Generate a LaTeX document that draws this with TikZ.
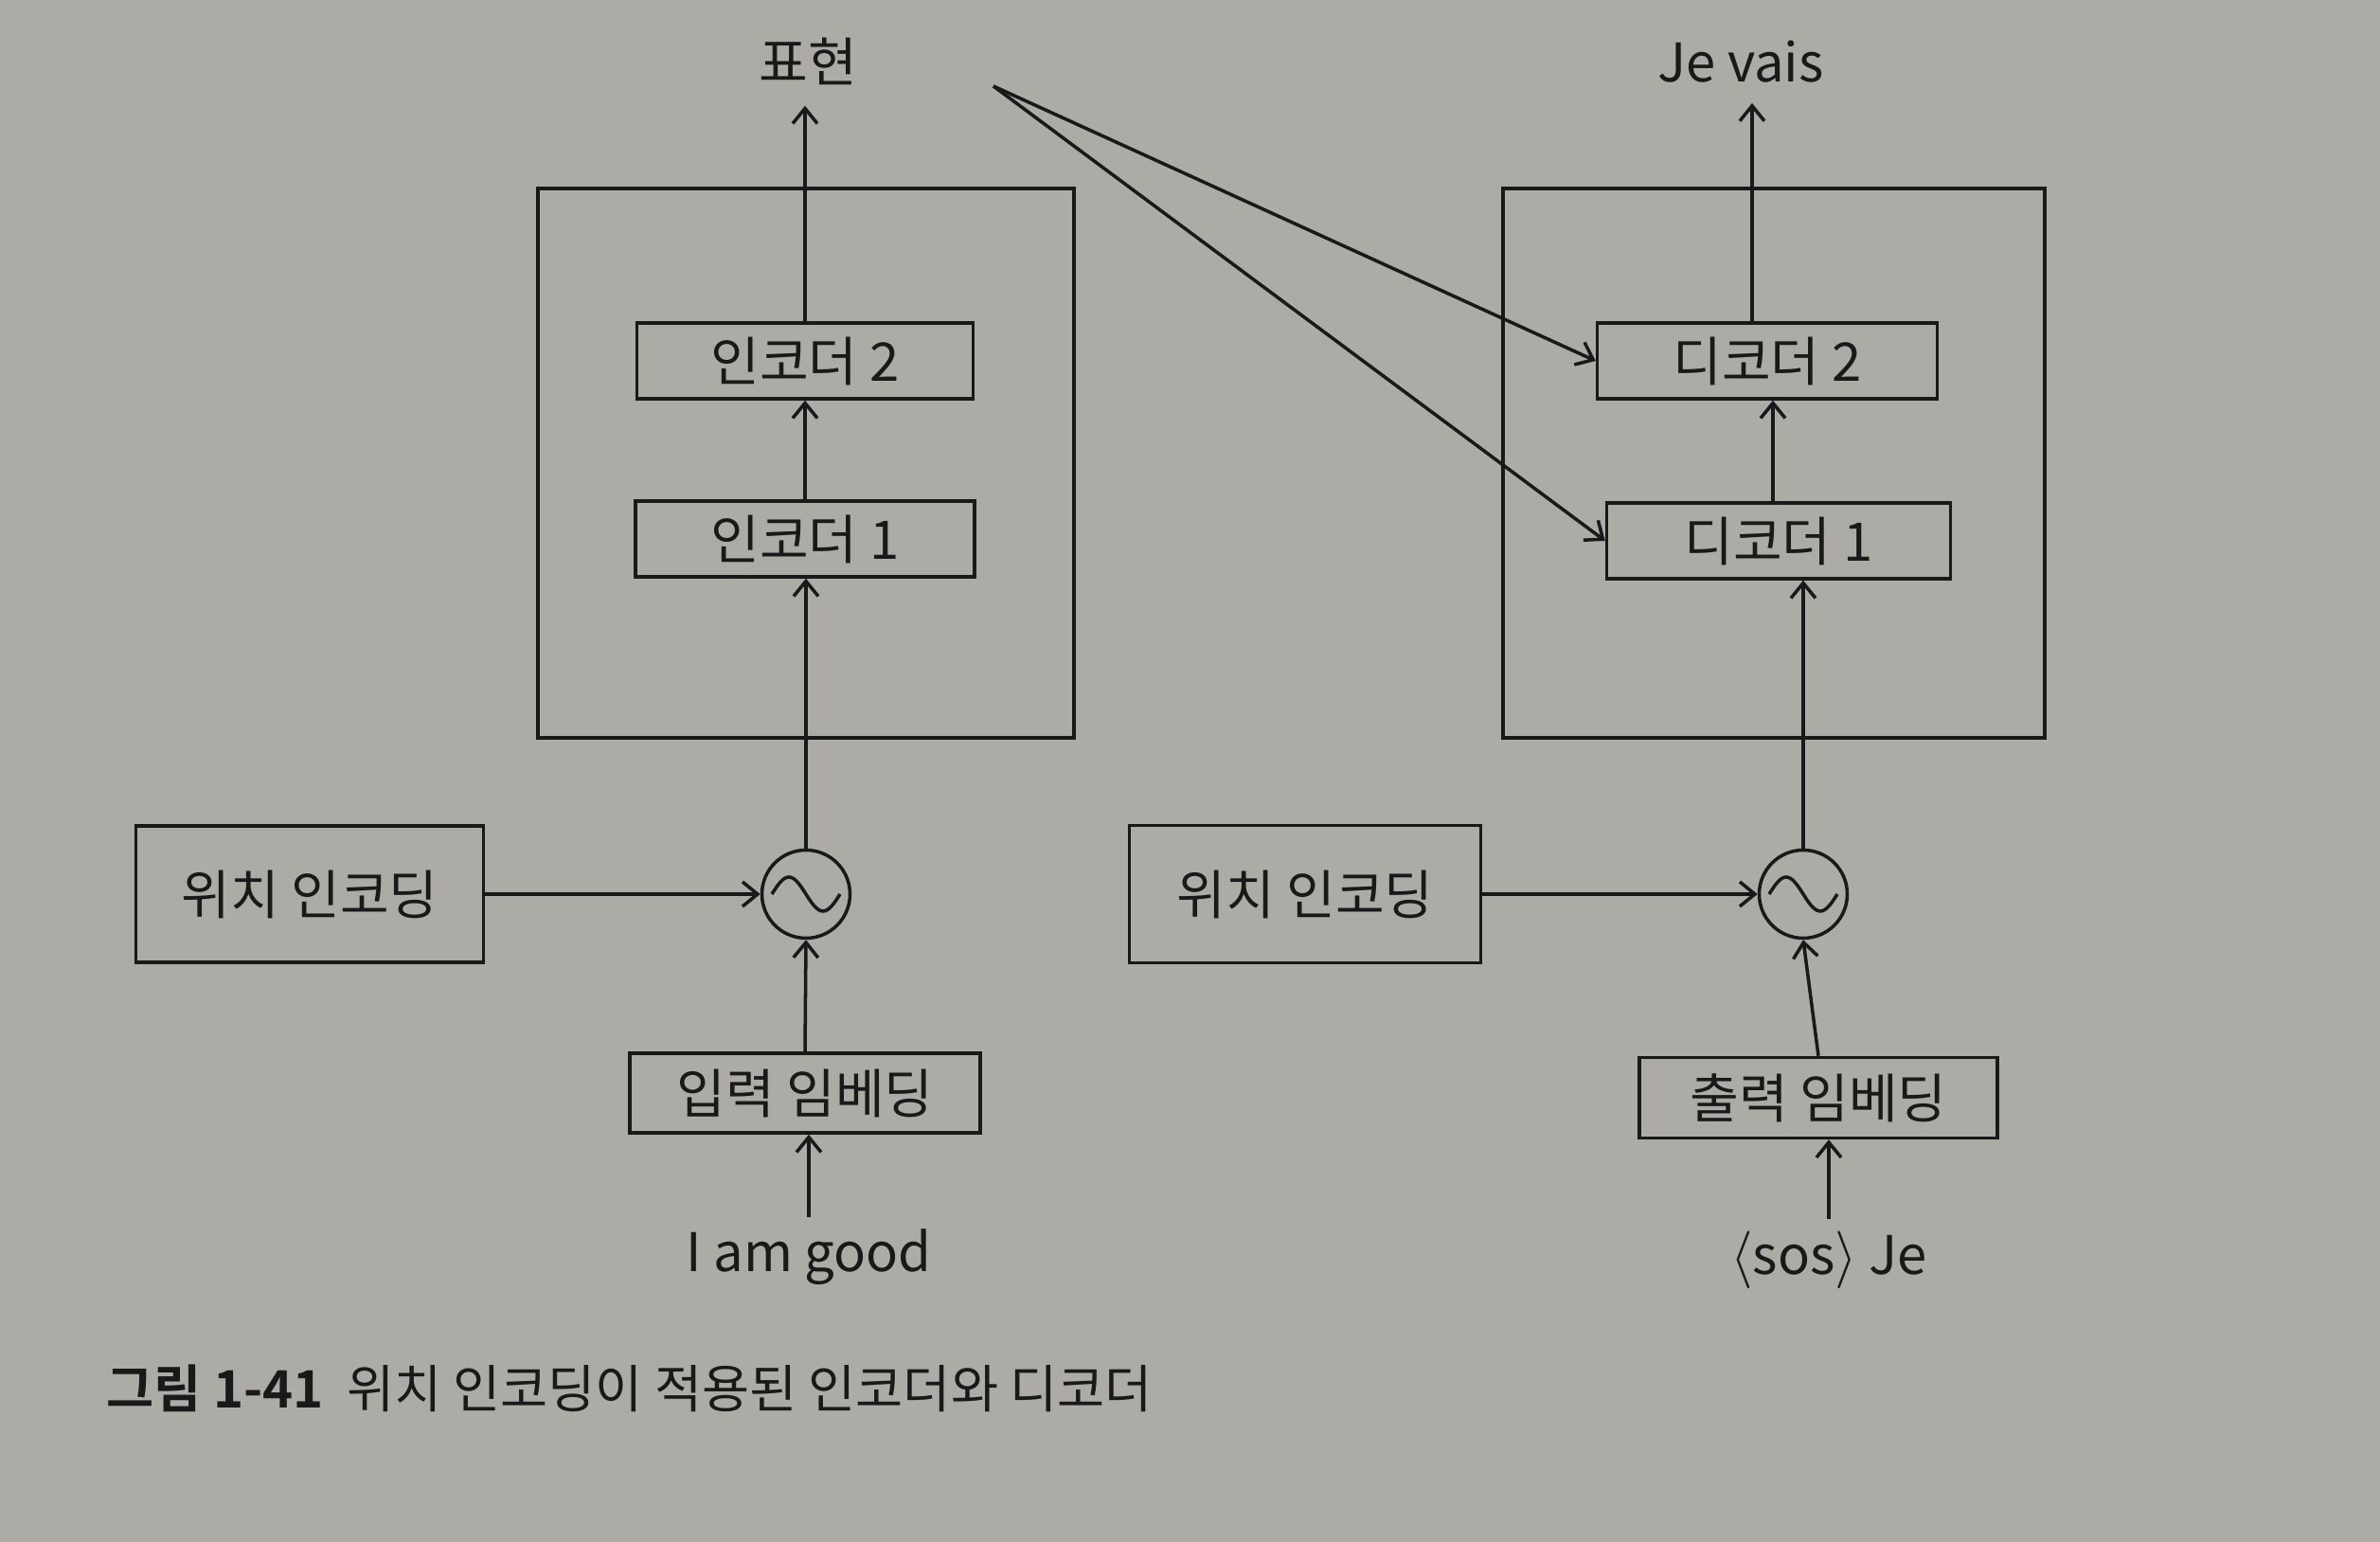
\documentclass[tikz,border=0pt]{standalone}
\usepackage{fontspec}
\setmainfont{Noto Sans CJK KR}[BoldFont={Noto Sans CJK KR Bold}]
\usepackage{tikz}
\usetikzlibrary{arrows.meta,calc}
\definecolor{paper}{RGB}{172,171,166}
\definecolor{ink}{RGB}{25,25,25}

\begin{document}
\begin{tikzpicture}[every node/.style={font=\fontsize{16}{19}\selectfont,text=ink},
    block/.style={draw=ink,line width=1pt,minimum height=0.8cm,inner sep=0pt},
    mixer/.style={draw=ink,line width=1pt,circle,minimum size=0.93cm,inner sep=0pt},
    arr/.style={draw=ink,line width=1pt,-{Straight Barb[length=1.6mm,width=2.6mm]}},
    frame/.style={draw=ink,line width=1pt}]
  \fill[paper] (0,0) rectangle (25.13,16.28);
  \useasboundingbox (0,0) rectangle (25.13,16.28);

  % encoder side
  \draw[frame] (5.68,8.49) rectangle (11.34,14.29);
  \node[block,minimum width=3.55cm] (enc2) at (8.50,12.47) {인코더 2};
  \node[block,minimum width=3.58cm] (enc1) at (8.50,10.59) {인코더 1};
  \node[mixer] (mixL) at (8.51,6.84) {};
  \node[block,minimum width=3.67cm,minimum height=1.44cm] (posL) at (3.27,6.84) {위치 인코딩};
  \node[block,minimum width=3.70cm,minimum height=0.84cm] (inemb) at (8.50,4.74) {입력 임베딩};
  \node (insent) at (8.54,3.01) {I am good};
  \node[inner sep=6pt] (rep) at (8.53,15.63) {표현};
  \coordinate (fork) at (10.49,15.37);

  % decoder side
  \draw[frame] (15.87,8.49) rectangle (21.59,14.29);
  \node[block,minimum width=3.59cm] (dec2) at (18.66,12.47) {디코더 2};
  \node[block,minimum width=3.63cm] (dec1) at (18.78,10.57) {디코더 1};
  \node[mixer] (mixR) at (19.04,6.84) {};
  \node[block,minimum width=3.71cm,minimum height=1.45cm] (posR) at (13.78,6.84) {위치 인코딩};
  \node[block,minimum width=3.78cm,minimum height=0.85cm] (outemb) at (19.20,4.69) {출력 임베딩};
  \node (outsent) at (19.31,2.98) {$\langle$sos$\rangle$ Je};
  \node[inner sep=6pt] (jevais) at (18.38,15.63) {Je vais};

  % sine marks
  \foreach \m in {mixL,mixR}
    \draw[ink,line width=1pt] ($(\m)+(-0.36,0)$) sin ++(0.18,0.18) cos ++(0.18,-0.18)
      sin ++(0.18,-0.18) cos ++(0.18,0.18);

  % connectors
  \draw[arr] (insent.north) -- (insent.north |- inemb.south);
  \draw[arr] (inemb.north) -- (mixL.south);
  \draw[arr] (posL.east) -- (mixL.west);
  \draw[arr] (mixL.north) -- (mixL.north |- enc1.south);
  \draw[arr] (enc1.north) -- (enc2.south);
  \draw[arr] (enc2.north) -- (enc2.north |- rep.south);
  \draw[arr] (fork) -- (dec2.west);
  \draw[arr] (fork) -- (dec1.west);
  \draw[arr] (outsent.north) -- (outsent.north |- outemb.south);
  \draw[arr] (outemb.north) -- (mixR.south);
  \draw[arr] (posR.east) -- (mixR.west);
  \draw[arr] (mixR.north) -- (mixR.north |- dec1.south);
  \draw[arr] ($(dec1.north)+(-0.06,0)$) -- ($(dec1.north |- dec2.south)+(-0.06,0)$);
  \draw[arr] ($(dec2.north)+(-0.16,0)$) -- ($(dec2.north |- jevais.south)+(-0.16,0)$);

  \node[anchor=west,font=\fontsize{15.5}{18}\selectfont] (caption) at (1.00,1.62)
    {\textbf{그림 1-41}\ \ 위치 인코딩이 적용된 인코더와 디코더};
\end{tikzpicture}
\end{document}
